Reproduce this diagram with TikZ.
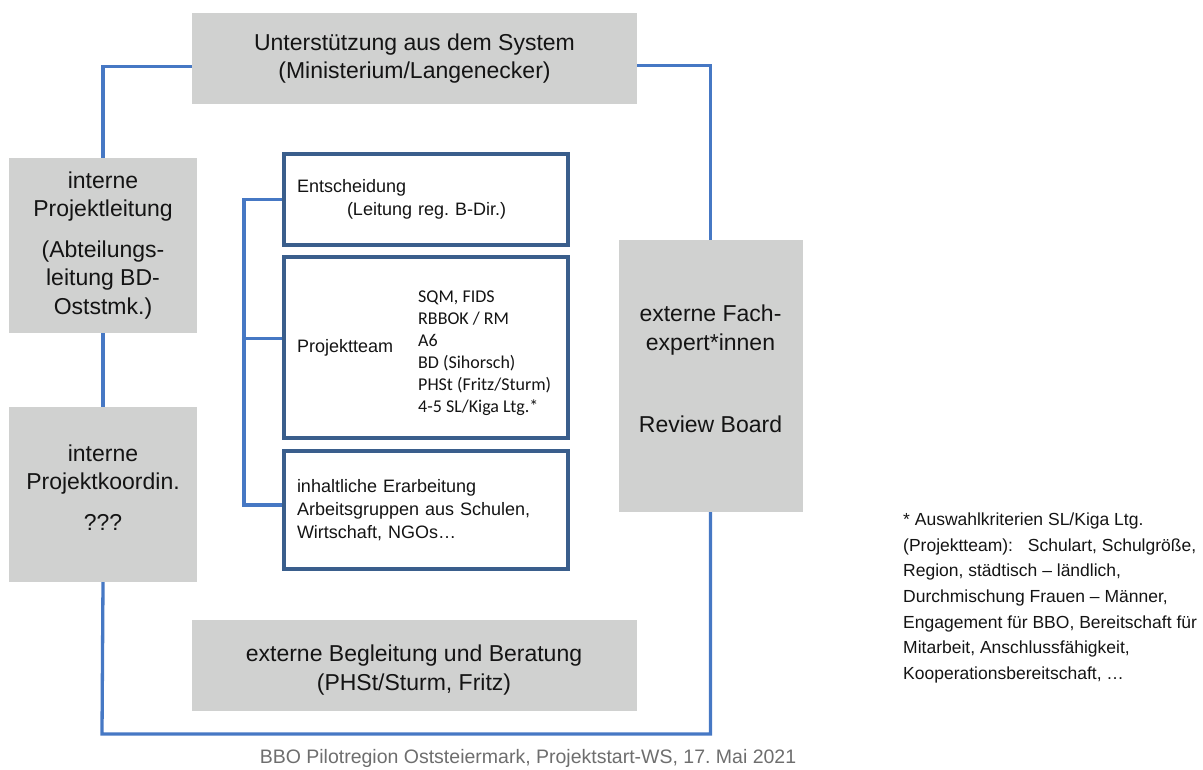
\documentclass[tikz,border=0pt]{standalone}
\usepackage{fontspec}
\setmainfont{Liberation Sans}
\newfontfamily\carfont{Carlito}
\definecolor{boxgray}{RGB}{208,209,208}
\definecolor{connblue}{RGB}{70,120,196}
\definecolor{darkblue}{RGB}{58,94,140}
\definecolor{txt}{RGB}{20,20,20}
\definecolor{capgray}{RGB}{110,110,110}
\tikzset{
  graybox/.style={fill=boxgray, draw=none, inner sep=0pt, align=center, text=txt,
    font=\fontsize{23}{28.5}\selectfont},
  bluebox/.style={draw=darkblue, line width=4pt, fill=white, inner sep=0pt,
    minimum width=284pt, text=txt},
  conn/.style={draw=connblue, line width=3.3pt},
  small/.style={font=\fontsize{18}{23}\selectfont, text=txt},
}
\begin{document}
\frenchspacing
\begin{tikzpicture}[x=1pt,y=-1pt]
\useasboundingbox (0,0) rectangle (1203,769);

% gray boxes
\node[graybox, minimum width=445pt, minimum height=91pt] (top) at (414.5,58.5)
  {Unterstützung aus dem System\\(Ministerium/Langenecker)};
\node[graybox, minimum width=188pt, minimum height=175pt] (l1) at (103,245.5)
  {interne\\Projektleitung\\[12pt](Abteilungs-\\leitung BD-\\Oststmk.)};
\node[graybox, minimum width=188pt, minimum height=175pt] (l2) at (103,494.5)
  {interne\\Projektkoordin.\\[12pt]???\\[-14pt]\mbox{}};
\node[graybox, minimum width=184pt, minimum height=272pt] (r) at (710.5,376)
  {externe Fach-\\expert*innen\\[54pt]Review Board\\[-14pt]\mbox{}};
\node[graybox, minimum width=445pt, minimum height=91pt] (bot) at (414,665.5)
  {\mbox{}\\[-3pt]externe Begleitung und Beratung\\(PHSt/Sturm, Fritz)};

% frame connectors
\coordinate (corner) at (102,734);
\draw[conn] ([yshift=-8pt]top.west) -| (l1.north);
\draw[conn] (l1.south) -- (l2.north);
\draw[conn] (l2.south) -- (corner) -| (r.south);
\draw[conn] ([yshift=-7pt]top.east) -| (r.north);

% inner blue boxes
\node[bluebox, minimum height=91pt, small, text width=258pt, align=left] (b1) at (426,199.5)
  {Entscheidung\\\hspace*{50pt}(Leitung reg. B-Dir.)};
\node[bluebox, minimum height=181pt] (b2) at (426,347.5) {};
\node[bluebox, minimum height=118pt, small, text width=258pt, align=left] (b3) at (426,510)
  {inhaltliche Erarbeitung\\Arbeitsgruppen aus Schulen,\\Wirtschaft, NGOs\dots};
\node[small, anchor=west, inner sep=0pt] (pt) at (297,348) {Projektteam};
\node[anchor=west, inner sep=0pt, align=left, text=txt,
  font=\carfont\fontsize{18}{22}\selectfont] (ptl) at (418,353)
  {SQM, FIDS\\RBBOK / RM\\A6\\BD (Sihorsch)\\PHSt (Fritz/Sturm)\\4-5 SL/Kiga Ltg.*};

% bracket
\coordinate (bx) at (244,0);
\coordinate (b2in) at ([yshift=9pt]b2.west);
\coordinate (b3in) at ([yshift=5pt]b3.west);
\draw[conn] (b1.west) -| (bx |- b3in) -- (b3in);
\draw[conn] (bx |- b2in) -- (b2in);

% footnote
\node[anchor=west, inner sep=0pt, align=left, text=txt,
  font=\fontsize{17.5}{25.6}\selectfont] (fn) at (903,598)
  {* Auswahlkriterien SL/Kiga Ltg.\\(Projektteam):\hspace{10pt} Schulart, Schulgröße,\\Region, städtisch – ländlich,\\Durchmischung Frauen – Männer,\\Engagement für BBO, Bereitschaft für\\Mitarbeit, Anschlussfähigkeit,\\Kooperationsbereitschaft, \dots};

% caption
\node[inner sep=0pt, text=capgray, font=\fontsize{19.5}{23}\selectfont] (cap) at (528,758)
  {BBO Pilotregion Oststeiermark, Projektstart-WS, 17. Mai 2021};
\end{tikzpicture}
\end{document}
